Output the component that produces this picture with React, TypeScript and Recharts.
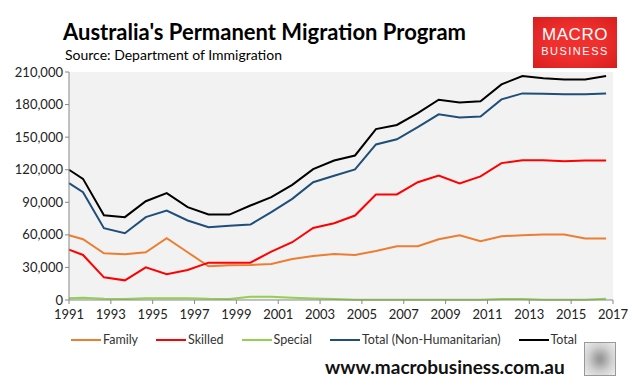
import { LineChart, Line, XAxis, YAxis, CartesianGrid } from 'recharts';

const years = [
  1991, 1991.67, 1992.67, 1993.67, 1994.67, 1995.67, 1996.67, 1997.67, 1998.67,
  1999.67, 2000.67, 2001.67, 2002.67, 2003.67, 2004.67, 2005.67, 2006.67,
  2007.67, 2008.67, 2009.67, 2010.67, 2011.67, 2012.67, 2013.67, 2014.67,
  2015.67, 2016.67,
];

const family = [
  59700, 56000, 43000, 42100, 44000, 56900, 44000, 31000, 32000, 32300, 33200,
  37800, 40600, 42400, 41500, 45200, 49500, 49500, 56000, 59700, 54100, 58700,
  59700, 60300, 60300, 56600, 56600,
];

const skilled = [
  46400, 41500, 20900, 18100, 30100, 23700, 27700, 34400, 34400, 34400, 44600,
  53200, 66400, 70700, 77800, 97200, 97200, 108500, 114700, 107300, 113800,
  126100, 128800, 128800, 127900, 128500, 128500,
];

const special = [
  1500, 2000, 1200, 1000, 1600, 1700, 1700, 1100, 1000, 3000, 3000, 2000, 1300,
  1000, 300, 300, 300, 300, 300, 300, 300, 900, 900, 300, 200, 300, 1200,
];

const totalNonHum = [
  107600, 99300, 66100, 61500, 76300, 82400, 73200, 67000, 68300, 69500, 80900,
  93200, 108500, 114400, 120200, 143300, 148000, 159300, 171000, 168200, 169100,
  184800, 190300, 190000, 189400, 189400, 190300,
];

const total = [
  120000, 111600, 78100, 76300, 91000, 98400, 85500, 78700, 78700, 87000, 94700,
  106100, 120500, 128500, 133100, 157400, 161200, 172200, 184500, 182000, 183000,
  198600, 206300, 204200, 203200, 203200, 206300,
];

const xTicks = [1991, 1993, 1995, 1997, 1999, 2001, 2003, 2005, 2007, 2009, 2011, 2013, 2015, 2017];
const yTicks = [0, 30000, 60000, 90000, 120000, 150000, 180000, 210000];

const series = [
  { key: 'family', name: 'Family', color: '#ED7D31' },
  { key: 'skilled', name: 'Skilled', color: '#FF0000' },
  { key: 'special', name: 'Special', color: '#92D050' },
  { key: 'totalNonHum', name: 'Total (Non-Humanitarian)', color: '#1F4E79' },
  { key: 'total', name: 'Total', color: '#000000' },
];

const data = years.map((year, i) => ({
  year,
  family: family[i],
  skilled: skilled[i],
  special: special[i],
  totalNonHum: totalNonHum[i],
  total: total[i],
}));

const font = 'Lato, "Liberation Sans", sans-serif';

export default function App() {
  return (
    <div style={{ position: 'absolute', left: 0, top: 0, width: 640, height: 387, background: '#fff', fontFamily: font }}>
      <LineChart
        width={640}
        height={387}
        data={data}
        margin={{ top: 72, right: 27, bottom: 57, left: 5 }}
      >
        <CartesianGrid fill="#f2f2f2" horizontal={false} vertical={false} />
        <XAxis
          dataKey="year"
          type="number"
          domain={[1991, 2017]}
          ticks={xTicks}
          interval={0}
          height={30}
          stroke="#888"
          tickSize={4}
          tickMargin={6}
          tick={{ fill: '#222', fontSize: 13, fontFamily: font }}
        />
        <YAxis
          domain={[0, 210000]}
          ticks={yTicks}
          interval={0}
          width={64}
          stroke="#888"
          tickSize={4}
          tickMargin={2}
          tick={{ fill: '#222', fontSize: 13, fontFamily: font }}
          tickFormatter={(v) => v.toLocaleString('en-US')}
        />
        {series.map((s) => (
          <Line
            key={s.key}
            type="linear"
            dataKey={s.key}
            name={s.name}
            stroke={s.color}
            strokeWidth={2}
            dot={false}
            isAnimationActive={false}
          />
        ))}
      </LineChart>

      <div
        style={{
          position: 'absolute', left: 71, top: 332, display: 'flex',
          gap: 18, fontSize: 12.5, color: '#333',
        }}
      >
        {series.map((s) => (
          <div key={s.key} style={{ display: 'flex', alignItems: 'center' }}>
            <span style={{ display: 'inline-block', width: 30, height: 2, background: s.color, marginRight: 2 }} />
            <span>{s.name}</span>
          </div>
        ))}
      </div>

      <div style={{ position: 'absolute', left: 63, top: 18, fontSize: 22, fontWeight: 700, color: '#000' }}>
        Australia's Permanent Migration Program
      </div>
      <div style={{ position: 'absolute', left: 65, top: 46, fontSize: 14, color: '#000' }}>
        Source: Department of Immigration
      </div>

      <div
        style={{
          position: 'absolute', left: 533, top: 17, width: 84, height: 51,
          background: 'radial-gradient(ellipse at center, #f0302f 40%, #d81e1e 100%)',
          color: '#fff', textAlign: 'center', fontFamily: '"Liberation Sans", sans-serif',
        }}
      >
        <div style={{ fontSize: 17, marginTop: 9, lineHeight: '17px', letterSpacing: 0.5 }}>MACRO</div>
        <div style={{ fontSize: 11, marginTop: 3, lineHeight: '11px', letterSpacing: 1.5 }}>BUSINESS</div>
      </div>

      <div style={{ position: 'absolute', left: 325, top: 355, fontSize: 19, fontWeight: 700, color: '#111' }}>
        www.macrobusiness.com.au
      </div>
      <div
        style={{
          position: 'absolute', left: 584, top: 342, width: 30, height: 32,
          border: '1px solid #999',
          background: 'radial-gradient(ellipse at center, #9a9a9a 10%, #cfcfcf 55%, #eee 100%)',
        }}
      />
    </div>
  );
}
